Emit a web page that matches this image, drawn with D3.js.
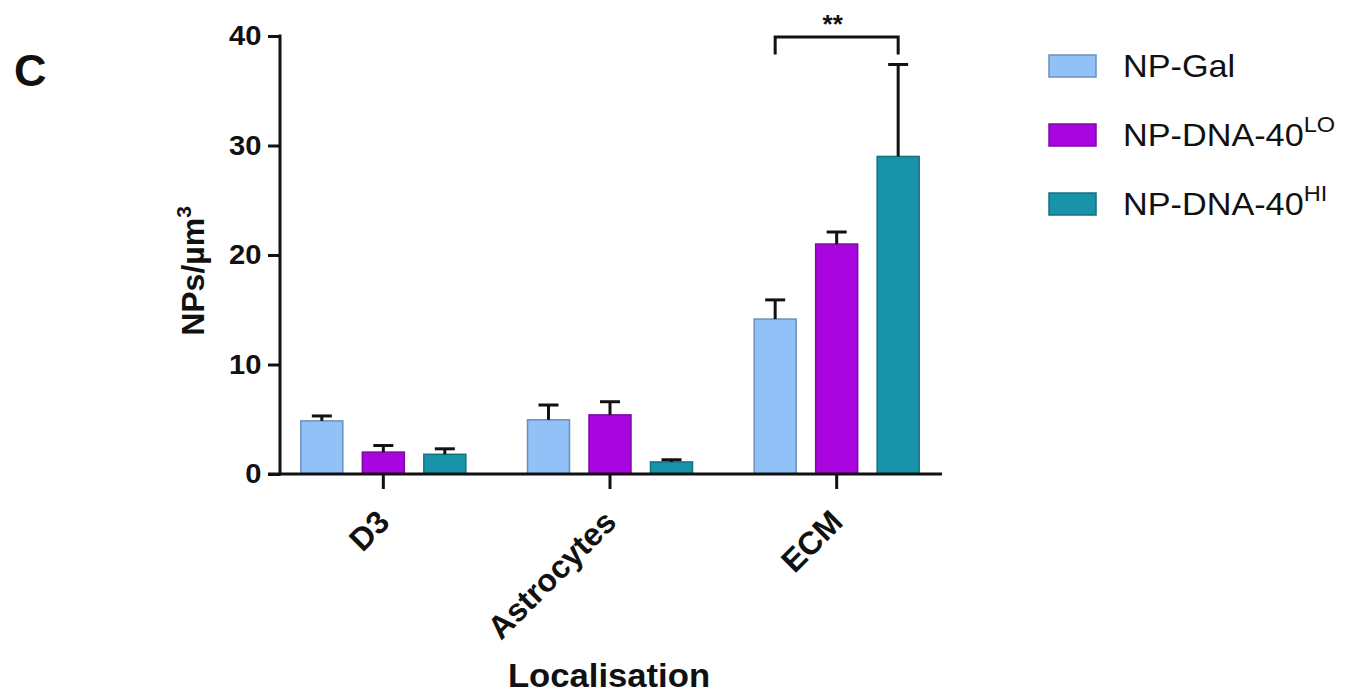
<!DOCTYPE html>
<html>
<head>
<meta charset="utf-8">
<script src="https://cdn.jsdelivr.net/npm/d3@7"></script>
<style>
  html, body { margin: 0; padding: 0; background: #fff; }
  svg { display: block; }
  text { font-family: "Liberation Sans", Arial, sans-serif; fill: #111; }
</style>
</head>
<body>
<svg id="chart" width="1357" height="695"></svg>
<script>
// Nanoparticle density per localisation (mean ± SEM)
const categories = ["D3", "Astrocytes", "ECM"];
const seriesNames = ["NP-Gal", "NP-DNA-40LO", "NP-DNA-40HI"];
const seriesBase = ["NP-Gal", "NP-DNA-40", "NP-DNA-40"];
const seriesSup = ["", "LO", "HI"];
const galValues = [4.85, 4.95, 14.15];
const galErrors = [0.45, 1.35, 1.75];
const loValues = [2.0, 5.4, 21.0];
const loErrors = [0.6, 1.2, 1.1];
const hiValues = [1.8, 1.1, 29.0];
const hiErrors = [0.5, 0.2, 8.4];
const yTicks = [0, 10, 20, 30, 40];
const seriesColors = ["#92c1f8", "#a905df", "#1794a9"];
const seriesStrokes = ["#6d8fb8", "#7d0aa6", "#13707f"];

const values = [galValues, loValues, hiValues];
const errors = [galErrors, loErrors, hiErrors];

const svg = d3.select("#chart");

const y = d3.scaleLinear().domain([0, 40]).range([474, 36]);
const x = d3.scaleBand().domain(categories).range([270, 950]).padding(0);
const xSub = d3.scaleBand().domain(seriesNames).range([-82.5, 82.5]).paddingInner(0.317);

const axisX0 = 280, axisX1 = 942;

// bars
const rows = [];
categories.forEach((c, ci) => {
  seriesNames.forEach((s, si) => {
    rows.push({ cat: c, series: s, si, value: values[si][ci], err: errors[si][ci] });
  });
});

const barG = svg.append("g");
barG.selectAll("rect").data(rows).enter().append("rect")
  .attr("x", d => x(d.cat) + x.bandwidth() / 2 + xSub(d.series))
  .attr("y", d => y(d.value))
  .attr("width", xSub.bandwidth())
  .attr("height", d => y(0) - y(d.value))
  .attr("fill", d => seriesColors[d.si])
  .attr("stroke", d => seriesStrokes[d.si])
  .attr("stroke-width", 1.5);

// error bars (upper only)
const errG = svg.append("g").attr("stroke", "#111").attr("stroke-width", 3);
rows.forEach(d => {
  const cx = x(d.cat) + x.bandwidth() / 2 + xSub(d.series) + xSub.bandwidth() / 2;
  errG.append("line").attr("x1", cx).attr("x2", cx)
    .attr("y1", y(d.value)).attr("y2", y(d.value + d.err));
  errG.append("line").attr("x1", cx - 10).attr("x2", cx + 10)
    .attr("y1", y(d.value + d.err)).attr("y2", y(d.value + d.err));
});

// y axis
const yAxis = d3.axisLeft(y).tickValues(yTicks).tickSize(12).tickPadding(6).tickSizeOuter(0);
const yg = svg.append("g").attr("transform", `translate(${axisX0},0)`).call(yAxis);
yg.select(".domain").remove();
yg.selectAll(".tick line").attr("stroke", "#111").attr("stroke-width", 3);
yg.selectAll(".tick text")
  .attr("font-size", 27).attr("font-weight", "bold").attr("fill", "#111")
  .attr("font-family", "Liberation Sans, Arial, sans-serif")
  .attr("transform", "scale(1.08,1)")
  .attr("x", -18 / 1.08 - 0.5);
svg.append("line").attr("x1", axisX0).attr("x2", axisX0)
  .attr("y1", y(40) - 1.5).attr("y2", y(0) + 1.5)
  .attr("stroke", "#111").attr("stroke-width", 3);

// x axis
const xAxis = d3.axisBottom(x).tickSize(15).tickSizeOuter(0).tickFormat("");
const xg = svg.append("g").attr("transform", `translate(0,${y(0)})`).call(xAxis);
xg.select(".domain").remove();
xg.selectAll(".tick line").attr("stroke", "#111").attr("stroke-width", 3);
svg.append("line").attr("x1", axisX0 - 12).attr("x2", axisX1)
  .attr("y1", y(0)).attr("y2", y(0))
  .attr("stroke", "#111").attr("stroke-width", 3);

// rotated category labels
svg.append("g").selectAll("text").data(categories).enter().append("text")
  .attr("transform", d => `translate(${x(d) + x.bandwidth() / 2 + 8},${y(0) + 50}) rotate(-45)`)
  .attr("text-anchor", "end")
  .attr("font-size", 32).attr("font-weight", "bold")
  .text(d => d);

// axis titles
svg.append("text")
  .attr("transform", `translate(${609},${687}) scale(1.05,1)`)
  .attr("text-anchor", "middle")
  .attr("font-size", 33).attr("font-weight", "bold")
  .text("Localisation");

const yt = svg.append("text")
  .attr("transform", `translate(${204},${271}) rotate(-90)`)
  .attr("text-anchor", "middle")
  .attr("font-size", 32).attr("font-weight", "bold");
yt.append("tspan").text("NPs/µm");
yt.append("tspan").attr("font-size", 21).attr("dy", -13).text("3");

// significance bracket
const bx0 = x("ECM") + x.bandwidth() / 2 + xSub(seriesNames[0]) + xSub.bandwidth() / 2;
const bx1 = x("ECM") + x.bandwidth() / 2 + xSub(seriesNames[2]) + xSub.bandwidth() / 2;
svg.append("path")
  .attr("d", `M${bx0},${y(38.3)}V${y(39.9)}H${bx1}V${y(38.3)}`)
  .attr("fill", "none").attr("stroke", "#111").attr("stroke-width", 3);
svg.append("text")
  .attr("x", (bx0 + bx1) / 2 - 4).attr("y", 33)
  .attr("text-anchor", "middle")
  .attr("font-size", 26).attr("font-weight", "bold")
  .text("**");

// panel letter
svg.append("text")
  .attr("x", 14).attr("y", 86)
  .attr("font-family", "Open Sans, sans-serif")
  .attr("font-size", 45).attr("font-weight", 600)
  .text("C");

// legend
const legend = svg.append("g");
seriesNames.forEach((s, i) => {
  const ly = 55 + i * 69;
  legend.append("rect")
    .attr("x", 1049).attr("y", ly).attr("width", 47).attr("height", 22)
    .attr("fill", seriesColors[i]).attr("stroke", seriesStrokes[i]).attr("stroke-width", 1.5);
  const t = legend.append("text")
    .attr("transform", `translate(1123,${ly + 22}) scale(1.07,1)`)
    .attr("font-size", 32);
  t.append("tspan").text(seriesBase[i]);
  if (seriesSup[i]) {
    t.append("tspan").attr("font-size", 22).attr("dy", -14).text(seriesSup[i]);
  }
});
</script>
</body>
</html>
